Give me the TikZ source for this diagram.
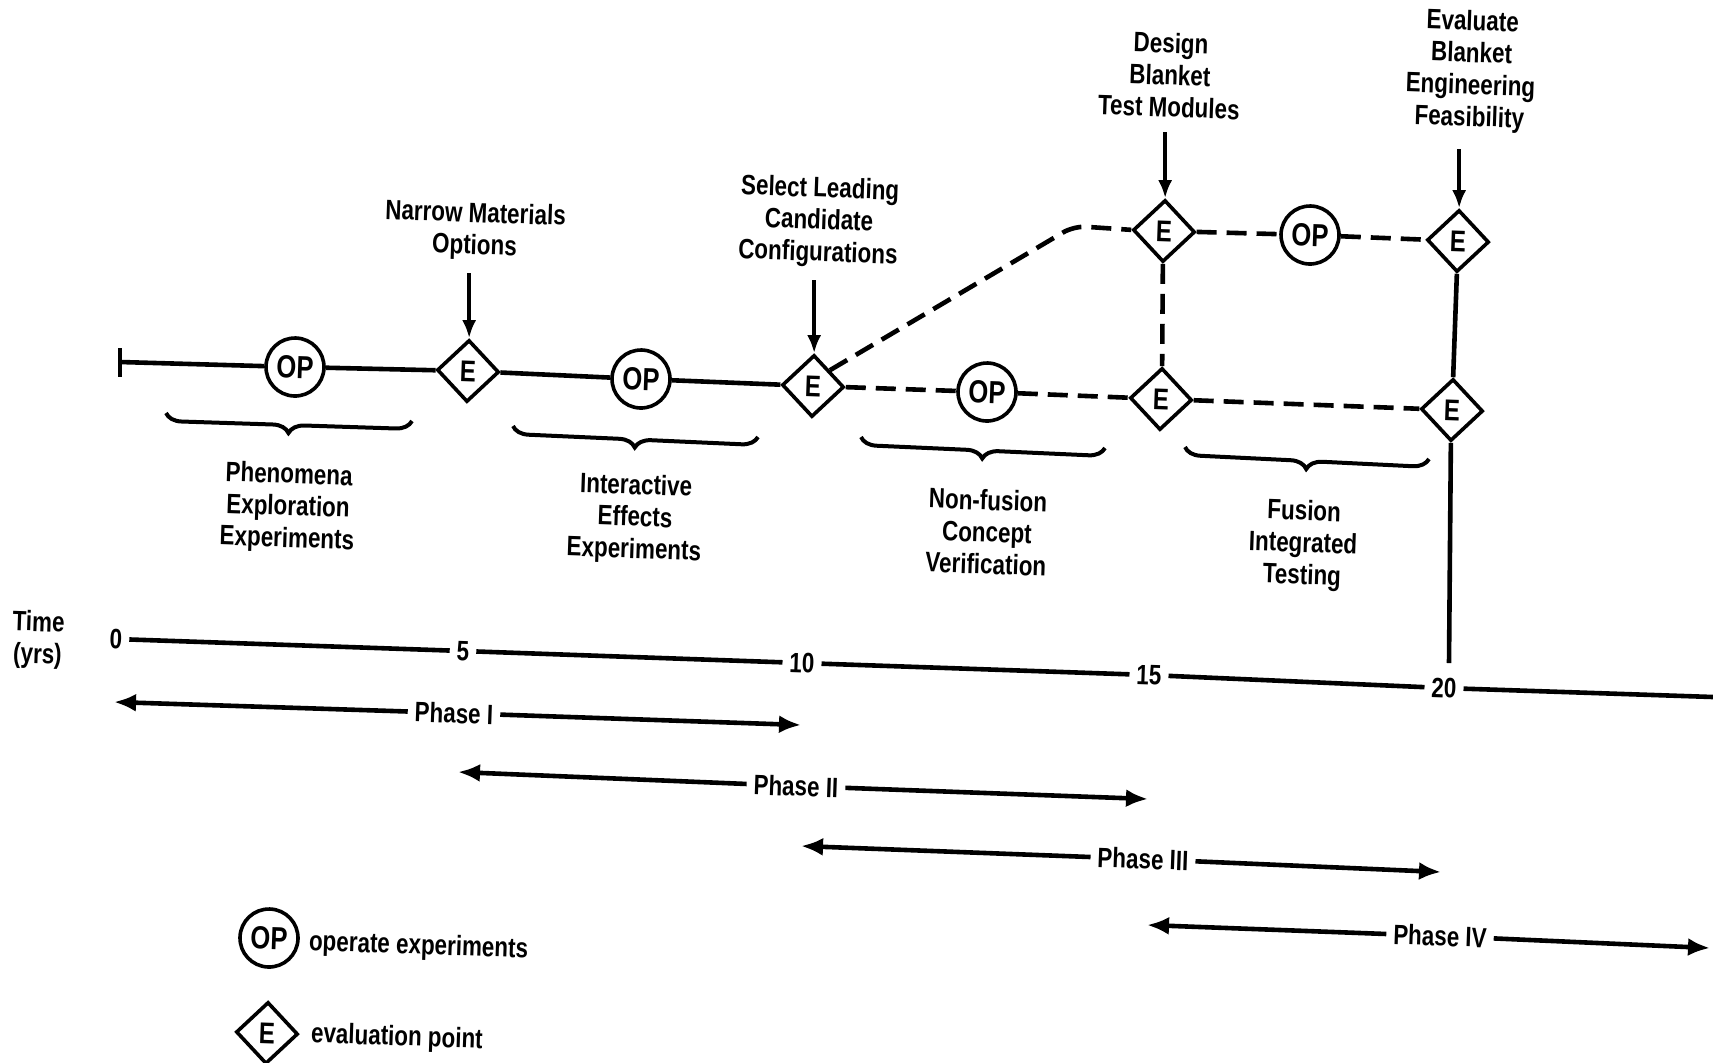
\documentclass[tikz,border=0pt]{standalone}
\usepackage{fontspec}
\setmainfont{Liberation Sans}[FakeStretch=0.8]
\usetikzlibrary{shapes.geometric,arrows.meta,decorations.pathreplacing}
\tikzset{
  op/.style={circle,draw,line width=1.8pt,minimum size=29pt,inner sep=0pt,fill=white,rotate=-2,font=\fontsize{16}{16}\selectfont\bfseries},
  ev/.style={diamond,draw,line width=1.8pt,minimum size=31pt,inner sep=0pt,fill=white,rotate=-2,font=\fontsize{15}{15}\selectfont\bfseries},
  lbl/.style={align=center,rotate=-2},
  mainline/.style={line width=2.3pt},
  dashline/.style={line width=2.3pt,dash pattern=on 10pt off 5pt},
  arr/.style={line width=2pt,-{Latex[length=9pt,width=7pt]}},
  brc/.style={line width=2pt,decorate,decoration={brace,mirror,amplitude=8pt}},
  phase/.style={line width=2.3pt,-{Latex[length=11pt,width=9pt]}},
}
\begin{document}
\begin{tikzpicture}[x=0.5pt,y=-0.5pt,font=\fontsize{14}{16}\selectfont\bfseries]
\useasboundingbox (0,0) rectangle (1713,1062);
% 評価点と実験
\node[op] (op1) at (295,367) {OP};
\node[ev] (e1) at (468,371) {E};
\node[op] (op2) at (641,379) {OP};
\node[ev] (e2) at (813,386) {E};
\node[op] (op3) at (987,392) {OP};
\node[ev] (e3) at (1161,399) {E};
\node[ev] (e4) at (1452,410) {E};
\node[ev] (e5) at (1164,231) {E};
\node[op] (op4) at (1310,235) {OP};
\node[ev] (e6) at (1458,241) {E};
% 主線
\coordinate (start) at (120,362);
\draw[mainline] (120,348) -- (120,377);
\draw[mainline] (start) -- (op1) (op1) -- (e1) (e1) -- (op2) (op2) -- (e2);
\draw[dashline] (e2) -- (op3) (op3) -- (e3) (e3) -- (e4);
\draw[dashline,rounded corners=6pt] (e2.north east) -- (1074,226) -- (e5.west);
\draw[dashline] (e5) -- (op4) (op4) -- (e6);
\draw[dashline] (e5.south) -- (e3.north);
\coordinate (down) at (1449,663);
\draw[mainline] (e6.south) -- (e4.north) (e4.south) -- (down);
% 上のラベル
\node[lbl] (nm) at (475,231) {Narrow Materials\\Options};
\node[lbl] (sl) at (819,222) {Select Leading\\Candidate\\Configurations};
\node[lbl] (db) at (1170,75) {Design\\Blanket\\Test Modules};
\node[lbl] (eb) at (1471,71) {Evaluate\\Blanket\\Engineering\\Feasibility};
\draw[arr] ([yshift=-3pt]nm.south -| e1.north) -- (e1.north);
\draw[arr] ([yshift=-3pt]sl.south -| e2.north) -- (e2.north);
\draw[arr] ([yshift=-4pt]db.south -| e5.north) -- (e5.north);
\draw[arr] ([yshift=-5pt]eb.south -| e6.north) -- (e6.north);
% 括弧と段階
\draw[brc] (166,413) -- (412,421);
\draw[brc] (513,426) -- (758,437);
\draw[brc] (861,437) -- (1105,448);
\draw[brc] (1185,447) -- (1429,459);
\node[lbl] (pe) at (288,508) {Phenomena\\Exploration\\Experiments};
\node[lbl] (ie) at (635,519) {Interactive\\Effects\\Experiments};
\node[lbl] (nf) at (987,532) {Non-fusion\\Concept\\Verification};
\node[lbl] (fi) at (1303,545) {Fusion\\Integrated\\Testing};
% 時間軸
\node[lbl] (time) at (38,640) {Time\\(yrs)};
\node[lbl] (t0) at (116,639) {0};
\node[lbl] (t5) at (463,651) {5};
\node[lbl] (t10) at (802,663) {10};
\node[lbl] (t15) at (1149,675) {15};
\node[lbl] (t20) at (1444,688) {20};
\coordinate (tend) at (1713,697);
\draw[mainline] (t0) -- (t5) (t5) -- (t10) (t10) -- (t15) (t15) -- (t20) (t20) -- (tend);
% フェーズ
\node[lbl] (p1) at (454,713) {Phase I};
\node[lbl] (p2) at (796,786) {Phase II};
\node[lbl] (p3) at (1143,859) {Phase III};
\node[lbl] (p4) at (1440,936) {Phase IV};
\coordinate (p1a) at (114,702); \coordinate (p1b) at (801,725);
\coordinate (p2a) at (458,772); \coordinate (p2b) at (1148,799);
\coordinate (p3a) at (801,846); \coordinate (p3b) at (1441,872);
\coordinate (p4a) at (1147,925); \coordinate (p4b) at (1710,948);
\draw[phase] (p1) -- (p1a); \draw[phase] (p1) -- (p1b);
\draw[phase] (p2) -- (p2a); \draw[phase] (p2) -- (p2b);
\draw[phase] (p3) -- (p3a); \draw[phase] (p3) -- (p3b);
\draw[phase] (p4) -- (p4a); \draw[phase] (p4) -- (p4b);
% 凡例
\node[op] (lop) at (269,938) {OP};
\node[lbl,anchor=west] (lopt) at (302,943) {operate experiments};
\node[ev] (lev) at (267,1033) {E};
\node[lbl,anchor=west] (levt) at (304,1035) {evaluation point};
\end{tikzpicture}
\end{document}
